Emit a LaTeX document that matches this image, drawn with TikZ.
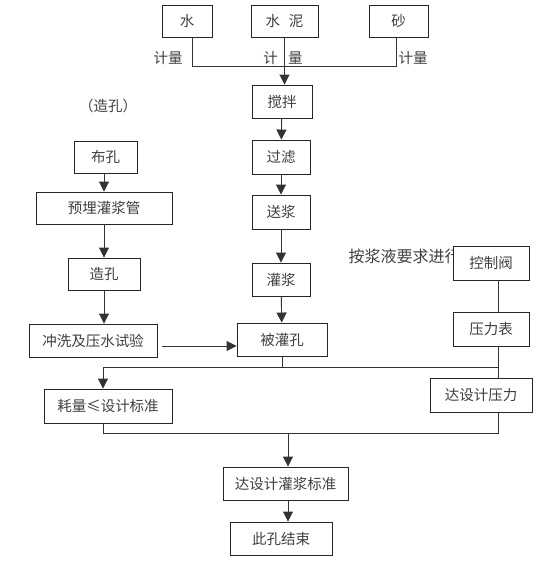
\documentclass[tikz,border=0pt]{standalone}
\usepackage{fontspec}
\setmainfont{Noto Sans CJK SC}
\usetikzlibrary{arrows.meta}
\begin{document}
\begin{tikzpicture}[x=1pt,y=-1pt,
  every node/.style={font=\fontsize{14.5}{16}\selectfont, text=black!75},
  box/.style={draw=black!85, line width=0.9pt, fill=white, inner sep=0pt},
  ln/.style={draw=black!80, line width=0.9pt},
  arr/.style={ln, -{Triangle[length=10pt,width=10pt]}}]
\useasboundingbox (0,0) rectangle (553,563);
% top materials
\node[box, minimum width=50, minimum height=32] (shui) at (187,21) {水};
\node[box, minimum width=67, minimum height=32] (shuini) at (284.5,21) {水\hspace{0.6em}泥};
\node[box, minimum width=59, minimum height=32] (sha) at (398.5,21) {砂};
\node (jl1) at (168,58) {计量};
\node (jl2) at (283,58) {计\hspace{0.7em}量};
\node (jl3) at (413,58) {计量};
\coordinate (h1) at (192,66);
\coordinate (h2) at (396,66);
% main column
\node[box, minimum width=60, minimum height=33] (jiaoban) at (282,101.5) {搅拌};
\node[box, minimum width=58, minimum height=34] (guolv) at (281,157) {过滤};
\node[box, minimum width=58, minimum height=34] (songjiang) at (281,212) {送浆};
\node[box, minimum width=58, minimum height=33] (guanjiang) at (281,279.5) {灌浆};
\node[box, minimum width=90, minimum height=33] (beiguan) at (282,339.5) {被灌孔};
% left column
\node (zaokong) at (108,106) {（造孔）};
\node[box, minimum width=63, minimum height=32] (bukong) at (105.5,157) {布孔};
\node[box, minimum width=136, minimum height=32] (maiguan) at (104,208) {预埋灌浆管};
\node[box, minimum width=72, minimum height=32] (zk) at (104,274) {造孔};
\node[box, minimum width=128, minimum height=33] (chongxi) at (93,340.5) {冲洗及压水试验};
% right column
\node[anchor=west, font=\fontsize{16}{18}\selectfont] (anjiang) at (345,256) {按浆液要求进行};
\node[box, minimum width=76, minimum height=34] (kongzhi) at (491,263) {控制阀};
\node[box, minimum width=76, minimum height=34] (yalibiao) at (491,329) {压力表};
\node[box, minimum width=102, minimum height=34] (dayali) at (481,395) {达设计压力};
% bottom
\node[box, minimum width=128, minimum height=34] (haoliang) at (108,406) {耗量≤设计标准};
\node[box, minimum width=125, minimum height=33] (dabiao) at (285.5,483.5) {达设计灌浆标准};
\node[box, minimum width=102, minimum height=33] (jieshu) at (281,538.5) {此孔结束};
\coordinate (m1) at (103,367);
\coordinate (m2) at (498,367);
\coordinate (l1) at (103,433);
\coordinate (l2) at (498,433);
\coordinate (ay) at (162,346);
\coordinate (vx) at (288,0);
% connectors top
\draw[ln] (shui.south -| h1) -- (h1) -- (h2) -- (sha.south -| h2);
\draw[arr] (shuini.south) -- (shuini.south |- jiaoban.north);
\draw[arr] (jiaoban) -- (guolv);
\draw[arr] (guolv) -- (songjiang);
\draw[arr] (songjiang) -- (guanjiang);
\draw[arr] (guanjiang) -- (beiguan);
% left chain
\draw[arr] (bukong.south -| maiguan.north) -- (maiguan.north);
\draw[arr] (maiguan.south) -- (zk.north);
\draw[arr] (zk.south) -- (zk.south |- chongxi.north);
\draw[arr] (ay) -- (beiguan.west |- ay);
% right chain
\draw[ln] (kongzhi.south -| m2) -- (yalibiao.north -| m2);
\draw[ln] (yalibiao.south -| m2) -- (dayali.north -| m2);
% merge lines
\draw[ln] (beiguan.south) -- (beiguan.south |- m1);
\draw[ln] (m2) -- (m1);
\draw[arr] (m1) -- (haoliang.north -| m1);
\draw[ln] (haoliang.south -| l1) -- (l1) -- (l2) -- (dayali.south -| l2);
\draw[arr] (l1 -| vx) -- (dabiao.north -| vx);
\draw[arr] (dabiao.south -| vx) -- (jieshu.north -| vx);
\end{tikzpicture}
\end{document}
